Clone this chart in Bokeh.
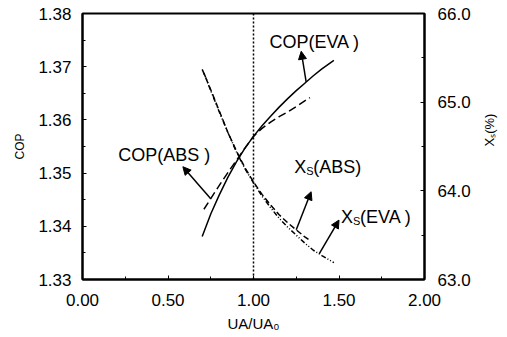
import numpy as np
from bokeh.plotting import figure
from bokeh.models import (Range1d, LinearAxis, FixedTicker, PrintfTickFormatter,
                          Span, Arrow, NormalHead, Label)
from bokeh.embed import file_html
from bokeh.resources import INLINE

# ---- data -------------------------------------------------------------
# COP of the evaporator-side and absorber-side variation vs UA/UA0
ua_cop_eva = [0.70, 0.75, 0.80, 0.85, 0.90, 0.95, 1.00, 1.05, 1.10, 1.15,
              1.20, 1.25, 1.30, 1.35, 1.40, 1.47]
cop_eva = [1.3381, 1.3423, 1.3459, 1.3492, 1.3521, 1.3547, 1.3569, 1.3589,
           1.3607, 1.3624, 1.3640, 1.3655, 1.3669, 1.3683, 1.3696, 1.3712]

ua_cop_abs = [0.71, 0.75, 0.80, 0.85, 0.90, 0.95, 1.00, 1.05, 1.10, 1.15,
              1.20, 1.25, 1.33]
cop_abs = [1.3432, 1.3452, 1.3477, 1.3501, 1.3524, 1.3547, 1.3569, 1.3584,
           1.3596, 1.3606, 1.3615, 1.3625, 1.3642]

# strong solution concentration X_S (%)
ua_xs_abs = [0.70, 0.75, 0.80, 0.85, 0.90, 0.95, 1.00, 1.05, 1.10, 1.15,
             1.20, 1.25, 1.30, 1.33]
xs_abs = [65.37, 65.14, 64.90, 64.66, 64.45, 64.26, 64.10, 63.96, 63.84,
          63.73, 63.64, 63.56, 63.48, 63.44]

ua_xs_eva = [0.71, 0.75, 0.80, 0.85, 0.90, 0.95, 1.00, 1.05, 1.10, 1.15,
             1.20, 1.25, 1.30, 1.35, 1.40, 1.47]
xs_eva = [65.33, 65.13, 64.89, 64.66, 64.44, 64.25, 64.09, 63.94, 63.81,
          63.69, 63.59, 63.50, 63.41, 63.33, 63.27, 63.19]

x_ticks = [0.0, 0.5, 1.0, 1.5, 2.0]
cop_ticks = [1.33, 1.34, 1.35, 1.36, 1.37, 1.38]
xs_ticks = [63.0, 64.0, 65.0, 66.0]
design_ua = 1.0

# ---- figure -----------------------------------------------------------
FONT = "Liberation Sans"
p = figure(width=507, height=337, x_range=Range1d(0, 2), y_range=Range1d(1.33, 1.38),
           output_backend="svg", toolbar_location=None,
           min_border_left=82, min_border_right=81, min_border_top=13,
           min_border_bottom=58)
p.extra_y_ranges = {"xs": Range1d(63.0, 66.0)}
p.background_fill_color = "white"
p.border_fill_color = "white"
p.outline_line_color = "black"
p.outline_line_width = 2
p.xgrid.visible = False
p.ygrid.visible = False

right = LinearAxis(y_range_name="xs")
p.add_layout(right, "right")


def style_axis(ax, ticks, minor, fmt, standoff, title, title_size, title_standoff):
    ax.ticker = FixedTicker(ticks=ticks, minor_ticks=minor)
    ax.formatter = PrintfTickFormatter(format=fmt)
    ax.axis_line_width = 2
    ax.axis_line_color = "black"
    ax.major_tick_in = 4
    ax.major_tick_out = 0
    ax.minor_tick_in = 3
    ax.minor_tick_out = 0
    ax.major_tick_line_width = 1
    ax.minor_tick_line_width = 1
    ax.major_label_text_font = FONT
    ax.major_label_text_font_size = "17px"
    ax.major_label_text_color = "black"
    ax.major_label_standoff = standoff
    ax.axis_label = title
    ax.axis_label_text_font = FONT
    ax.axis_label_text_font_size = title_size
    ax.axis_label_text_font_style = "normal"
    ax.axis_label_text_color = "black"
    ax.axis_label_standoff = title_standoff


style_axis(p.xaxis[0], x_ticks, [0.25, 0.75, 1.25, 1.75], "%.2f", 14,
           "UA/UA\u2080", "15px", 6)
style_axis(p.yaxis[0], cop_ticks, [1.335, 1.345, 1.355, 1.365, 1.375], "%.2f", 11,
           "COP", "12px", 8)
style_axis(right, xs_ticks, [63.5, 64.5, 65.5], "%.1f", 13,
           "X\u209b(%)", "13px", 16)
# right-hand title reads bottom-to-top like the left one
try:
    right.axis_label_orientation = np.pi / 2
except Exception:
    pass

# design point marker line
p.add_layout(Span(location=design_ua, dimension="height", line_color="black",
                  line_width=1.5, line_dash="2 2"))

# ---- curves -----------------------------------------------------------
p.line(ua_cop_eva, cop_eva, line_color="black", line_width=1.5)
p.line(ua_cop_abs, cop_abs, line_color="black", line_width=1.5, line_dash="8 4")
p.line(ua_xs_abs, xs_abs, y_range_name="xs", line_color="black",
       line_width=1.5, line_dash="6 3")
p.line(ua_xs_eva, xs_eva, y_range_name="xs", line_color="black",
       line_width=1.5, line_dash="5 2 1 2 1 2")

# ---- callouts ---------------------------------------------------------
def arrow(ua, vals, x_tail, head, rng="default"):
    y_tail = float(np.interp(x_tail, ua, vals))
    p.add_layout(Arrow(x_start=x_tail, y_start=y_tail, x_end=head[0], y_end=head[1],
                       y_range_name=rng, line_color="black", line_width=1.5,
                       end=NormalHead(size=8, fill_color="black", line_color="black")))


arrow(ua_cop_eva, cop_eva, 1.308, (1.279, 1.3729))
arrow(ua_cop_abs, cop_abs, 0.75, (0.587, 1.3512))
arrow(ua_xs_abs, xs_abs, 1.25, (1.337, 63.99), "xs")
arrow(ua_xs_eva, xs_eva, 1.384, (1.50, 63.67), "xs")


def text(x, y, s, size="18px", rng="default", dx=0, dy=0):
    p.add_layout(Label(x=x, y=y, text=s, y_range_name=rng, x_offset=dx, y_offset=dy,
                       text_font=FONT, text_font_size=size,
                       text_color="black", text_align="left",
                       text_baseline="alphabetic"))


text(1.093, 1.3746, "COP(EVA )")
text(0.209, 1.3534, "COP(ABS )")

# X_S labels: capital X with a small S subscript
for (lx, ly, tail) in [(1.238, 64.27, "(ABS)"), (1.512, 63.70, "(EVA )")]:
    text(lx, ly, "X", rng="xs")
    text(lx, ly, "S", size="11px", rng="xs", dx=12, dy=-4)
    text(lx, ly, tail, rng="xs", dx=19)

open("out.html", "w").write(file_html(p, INLINE))
